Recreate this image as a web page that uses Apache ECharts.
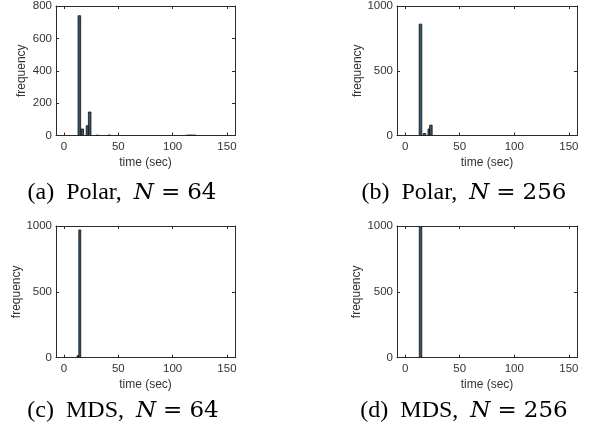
<!DOCTYPE html>
<html>
<head>
<meta charset="utf-8">
<script src="https://cdn.jsdelivr.net/npm/echarts@6/dist/echarts.min.js"></script>
<style>html,body{margin:0;padding:0;background:#fff}#c{width:595px;height:431px}</style>
</head>
<body>
<div id="c"></div>
<script>
// ---- data (histogram bins: left edge in sec, bin width in sec, counts) ----
const xTicks = [0, 50, 100, 150];
const polar64Start = [12.9, 15.6, 20.4, 22.4, 29.5, 40.5, 112.0, 114.4, 116.8, 119.2];
const polar64Count = [740, 40, 60, 145, 2, 3, 2, 3, 3, 2];
const polar64Bin = 2.4;
const polar256Start = [12.9, 16.6, 21.0, 22.4];
const polar256Count = [860, 15, 50, 80];
const polar256Bin = 2.4;
const mds64Start = [12.0, 13.6];
const mds64Count = [15, 970];
const mds64Bin = 1.8;
const mds256Start = [13.0];
const mds256Count = [1000];
const mds256Bin = 2.3;
const captions = [
  ['(a)', 'Polar,', '64'],
  ['(b)', 'Polar,', '256'],
  ['(c)', 'MDS,', '64'],
  ['(d)', 'MDS,', '256']
];

const panels = [
  {start: polar64Start, count: polar64Count, bin: polar64Bin, ymax: 800, yint: 200},
  {start: polar256Start, count: polar256Count, bin: polar256Bin, ymax: 1000, yint: 500},
  {start: mds64Start, count: mds64Count, bin: mds64Bin, ymax: 1000, yint: 500},
  {start: mds256Start, count: mds256Count, bin: mds256Bin, ymax: 1000, yint: 500}
];
const grids = [
  {left: 56, top: 5, width: 179, height: 130.5},
  {left: 397, top: 5, width: 180, height: 130.5},
  {left: 56, top: 226, width: 179, height: 131.7},
  {left: 397, top: 226, width: 180, height: 131.7}
];
const yNameGap = [28, 33, 33, 34];
const capPos = [[122, 193], [464, 193], [123, 411], [464, 411]];

const axisCol = '#2b2b2b';
const txtCol = '#333';
const xAxes = [], yAxes = [], series = [], graphics = [];
panels.forEach((p, i) => {
  const xa = {gridIndex: i, type: 'value', min: -7.4, max: 157.4,
    axisLine: {show: true, onZero: false, lineStyle: {color: axisCol, width: 1}},
    splitLine: {show: false}};
  xAxes.push(Object.assign({}, xa, {position: 'bottom',
    name: 'time (sec)', nameLocation: 'middle', nameGap: 21,
    nameTextStyle: {fontFamily: 'Liberation Sans', fontSize: 12, color: txtCol},
    axisTick: {show: true, inside: true, length: 3, customValues: xTicks, lineStyle: {color: axisCol}},
    axisLabel: {show: true, customValues: xTicks, fontFamily: 'Liberation Sans', fontSize: 11.5, color: txtCol, margin: 5,
      formatter: v => String(v)}}));
  xAxes.push(Object.assign({}, xa, {position: 'top',
    axisTick: {show: true, inside: true, length: 3, customValues: xTicks, lineStyle: {color: axisCol}},
    axisLabel: {show: false}}));
  const ya = {gridIndex: i, type: 'value', min: 0, max: p.ymax, interval: p.yint,
    axisLine: {show: true, onZero: false, lineStyle: {color: axisCol, width: 1}},
    splitLine: {show: false},
    axisTick: {show: true, inside: true, length: 3, lineStyle: {color: axisCol}}};
  yAxes.push(Object.assign({}, ya, {position: 'left',
    name: 'frequency', nameLocation: 'middle', nameGap: yNameGap[i], nameRotate: 90,
    nameTextStyle: {fontFamily: 'Liberation Sans', fontSize: 12, color: txtCol},
    axisLabel: {show: true, fontFamily: 'Liberation Sans', fontSize: 11.5, color: txtCol, margin: 4,
      formatter: v => String(v)}}));
  yAxes.push(Object.assign({}, ya, {position: 'right', axisLabel: {show: false}}));
  const data = p.start.map((s, k) => [s, s + p.bin, p.count[k]]);
  series.push({
    type: 'custom', xAxisIndex: 2 * i, yAxisIndex: 2 * i, data: data,
    encode: {x: [0, 1], y: 2}, clip: true,
    renderItem: function (params, api) {
      const a = api.coord([api.value(0), 0]);
      const b = api.coord([api.value(1), api.value(2)]);
      return {type: 'rect', shape: {x: a[0], y: b[1], width: b[0] - a[0], height: a[1] - b[1]},
        style: {fill: '#33566f', stroke: '#111', lineWidth: 0.8}};
    }
  });
  const c = captions[i];
  graphics.push({type: 'text', x: capPos[i][0], y: capPos[i][1],
    style: {
      text: '{t|' + c[0] + '}{g| }{t|' + c[1] + '}{g| }{n|N}{s| }{m|=}{s| }{m|' + c[2] + '}',
      align: 'center', verticalAlign: 'middle',
      rich: {
        t: {fontFamily: 'Liberation Serif', fontSize: 24, fill: '#000'},
        g: {fontFamily: 'Liberation Serif', fontSize: 24, width: 12},
        s: {fontFamily: 'Liberation Serif', fontSize: 24, width: 7},
        n: {fontFamily: 'DejaVu Serif', fontSize: 23, fontStyle: 'italic', fill: '#000'},
        m: {fontFamily: 'DejaVu Serif', fontSize: 23, fill: '#000'}
      }
    }});
});

const chart = echarts.init(document.getElementById('c'), null, {renderer: 'canvas'});
chart.setOption({
  animation: false,
  backgroundColor: '#fff',
  grid: grids,
  xAxis: xAxes,
  yAxis: yAxes,
  series: series,
  graphic: graphics
});
</script>
</body>
</html>
